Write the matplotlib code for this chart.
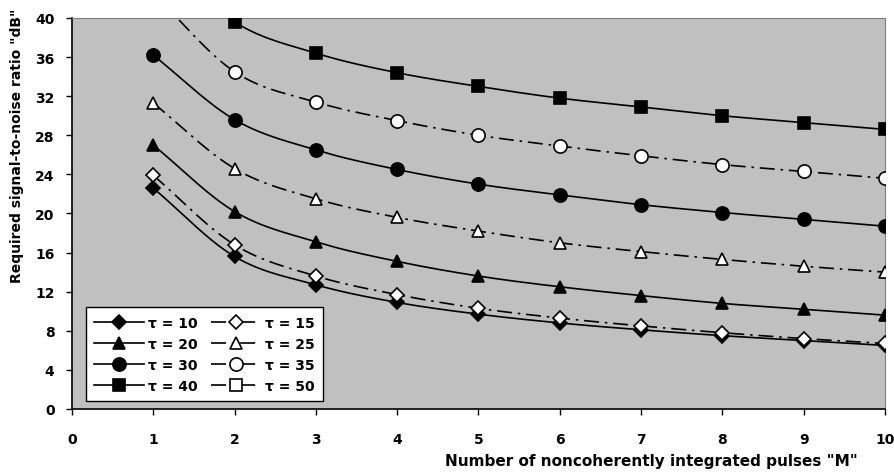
import numpy as np
import matplotlib
matplotlib.use("Agg")
import matplotlib.pyplot as plt

plt.rcParams['font.family'] = ['DejaVu Sans']
plt.rcParams['font.weight'] = 'bold'

# number of noncoherently integrated pulses
M = [1, 2, 3, 4, 5, 6, 7, 8, 9, 10]

# required SNR (dB) for each tau
snr_10 = [22.6, 15.6, 12.7, 10.9, 9.7, 8.8, 8.1, 7.5, 7.0, 6.5]
snr_15 = [23.9, 16.8, 13.6, 11.7, 10.3, 9.3, 8.5, 7.8, 7.2, 6.7]
snr_20 = [27.0, 20.2, 17.1, 15.1, 13.6, 12.5, 11.6, 10.8, 10.2, 9.6]
snr_25 = [31.3, 24.6, 21.5, 19.6, 18.2, 17.0, 16.1, 15.3, 14.6, 14.0]
snr_30 = [36.2, 29.6, 26.5, 24.5, 23.0, 21.9, 20.9, 20.1, 19.4, 18.7]
snr_35 = [42.5, 34.5, 31.4, 29.5, 28.0, 26.9, 25.9, 25.0, 24.3, 23.6]
snr_40 = [47.0, 39.6, 36.4, 34.4, 33.0, 31.8, 30.9, 30.0, 29.3, 28.6]
snr_50 = []

labels = ['τ = 10', 'τ = 15', 'τ = 20', 'τ = 25', 'τ = 30', 'τ = 35', 'τ = 40', 'τ = 50']


def smooth(x, y, n=30):
    # Catmull-Rom style smoothing through the points (like a spreadsheet smoothed line)
    x = np.asarray(x, float)
    y = np.asarray(y, float)
    if len(x) < 2:
        return x, y
    px = np.concatenate([[2 * x[0] - x[1]], x, [2 * x[-1] - x[-2]]])
    py = np.concatenate([[2 * y[0] - y[1]], y, [2 * y[-1] - y[-2]]])
    xs, ys = [], []
    t = np.linspace(0, 1, n)
    for i in range(1, len(px) - 2):
        p0, p1, p2, p3 = [np.array([px[j], py[j]]) for j in (i - 1, i, i + 1, i + 2)]
        c1 = p1 + (p2 - p0) / 6.0
        c2 = p2 - (p3 - p1) / 6.0
        pts = ((1 - t) ** 3)[:, None] * p1 + (3 * (1 - t) ** 2 * t)[:, None] * c1 \
            + (3 * (1 - t) * t ** 2)[:, None] * c2 + (t ** 3)[:, None] * p2
        xs.append(pts[:, 0])
        ys.append(pts[:, 1])
    return np.concatenate(xs), np.concatenate(ys)


fig = plt.figure(figsize=(8.95, 4.77), dpi=100)
ax = fig.add_axes([0.0804, 0.1405, 0.9084, 0.8197])
ax.set_facecolor('#c0c0c0')

dashdot = (0, (9, 3.5, 1.5, 3.5))
series = [
    (snr_10, 'D', 'black', '-', 7.5),
    (snr_15, 'D', 'white', dashdot, 7.5),
    (snr_20, '^', 'black', '-', 9),
    (snr_25, '^', 'white', dashdot, 9),
    (snr_30, 'o', 'black', '-', 9.5),
    (snr_35, 'o', 'white', dashdot, 9.5),
    (snr_40, 's', 'black', '-', 8.5),
    (snr_50, 's', 'white', dashdot, 8.5),
]

handles = []
for (vals, mk, fc, ls, ms), lab in zip(series, labels):
    xv = M[:len(vals)]
    sx, sy = smooth(xv, vals)
    ax.plot(sx, sy, color='black', lw=1.2, linestyle=ls, zorder=2)
    ax.plot(xv, vals, linestyle='none', marker=mk, markersize=ms,
            markerfacecolor=fc, markeredgecolor='black', markeredgewidth=1.2, zorder=3)
    h, = ax.plot([], [], color='black', lw=1.2, linestyle=ls, marker=mk, markersize=ms,
                 markerfacecolor=fc, markeredgecolor='black', markeredgewidth=1.2)
    handles.append(h)

ax.set_xlim(0, 10)
ax.set_ylim(0, 40)
ax.set_xticks(range(0, 11))
ax.set_yticks(range(0, 41, 4))
ax.tick_params(axis='both', direction='out', length=4.5, width=1, labelsize=10, pad=12)
ax.tick_params(axis='y', pad=8)
for lbl in ax.get_xticklabels() + ax.get_yticklabels():
    lbl.set_fontweight('bold')

for s in ('top', 'right'):
    ax.spines[s].set_color('#808080')
for s in ('left', 'bottom'):
    ax.spines[s].set_color('black')
    ax.spines[s].set_linewidth(1.2)

ax.set_ylabel('Required signal-to-noise ratio "dB"', fontsize=10, fontweight='bold')
ax.yaxis.set_label_coords(-0.059, 0.675)
ax.set_xlabel('Number of noncoherently integrated pulses "M"', fontsize=11, fontweight='bold',
              ha='right')
ax.xaxis.set_label_coords(0.967, -0.112)

# legend ordered row-wise: solid on left, dash-dot on right
order = [0, 2, 4, 6, 1, 3, 5, 7]
leg = ax.legend([handles[i] for i in order], [labels[i] for i in order], ncol=2,
                loc='lower left', bbox_to_anchor=(0.0172, 0.0205), borderaxespad=0,
                frameon=True, fancybox=False,
                edgecolor='black', framealpha=1, handlelength=3.6,
                handletextpad=0.3, columnspacing=0.9, labelspacing=0.5, borderpad=0.6,
                prop={'weight': 'bold', 'size': 10})
leg.get_frame().set_linewidth(1.0)

fig.savefig('out.png', dpi=100)
